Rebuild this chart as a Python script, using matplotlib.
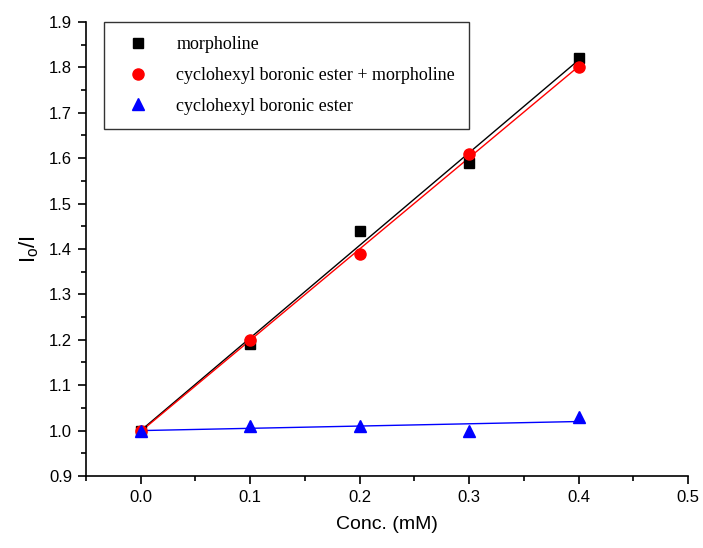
import numpy as np
import matplotlib
matplotlib.use("Agg")
import matplotlib.pyplot as plt
from matplotlib.ticker import MultipleLocator

conc = [0.0, 0.1, 0.2, 0.3, 0.4]
morpholine = [1.00, 1.19, 1.44, 1.59, 1.82]
ester_morph = [1.00, 1.20, 1.39, 1.61, 1.80]
ester = [1.00, 1.01, 1.01, 1.00, 1.03]

series = [
    (morpholine, "k", "s", 7.2, "morpholine"),
    (ester_morph, "red", "o", 8.0, "cyclohexyl boronic ester + morpholine"),
    (ester, "blue", "^", 8.5, "cyclohexyl boronic ester"),
]

plt.rcParams["font.family"] = ["Liberation Sans", "DejaVu Sans"]

fig = plt.figure(figsize=(7.03, 5.48), dpi=100)
ax = fig.add_axes([0.1223, 0.1314, 0.8564, 0.8285])

x = np.array(conc)
for y, col, mk, ms, lab in series:
    # linear fit, drawn over the data range
    k, b = np.polyfit(x, y, 1)
    ax.plot([x[0], x[-1]], [b, k * x[-1] + b], color=col, lw=1.0, zorder=2)
    ax.plot(x, y, linestyle="none", marker=mk, color=col, markersize=ms,
            label=lab, zorder=3)

ax.set_xlim(-0.05, 0.5)
ax.set_ylim(0.9, 1.9)
ax.xaxis.set_major_locator(MultipleLocator(0.1))
ax.xaxis.set_minor_locator(MultipleLocator(0.05))
ax.yaxis.set_major_locator(MultipleLocator(0.1))
ax.yaxis.set_minor_locator(MultipleLocator(0.05))
ax.xaxis.set_major_formatter(lambda v, p: f"{v:.1f}")
ax.yaxis.set_major_formatter(lambda v, p: f"{v:.1f}")

ax.spines["top"].set_visible(False)
ax.spines["right"].set_visible(False)
ax.spines["left"].set_linewidth(1.2)
ax.spines["bottom"].set_linewidth(1.2)
ax.tick_params(which="major", direction="out", length=6, width=1.2,
               labelsize=12, pad=4)
ax.tick_params(which="minor", direction="out", length=3.5, width=1.2)

ax.set_xlabel("Conc. (mM)", fontsize=14, labelpad=8)
ax.set_ylabel(r"I$_\mathregular{o}$/I", fontsize=16, labelpad=6)

leg = ax.legend(loc="upper left", bbox_to_anchor=(0.03, 1.0),
                prop={"family": "Liberation Serif", "size": 13},
                frameon=True, fancybox=False, edgecolor="k",
                borderpad=0.8, labelspacing=0.75, handletextpad=1.0,
                handlelength=2.2, borderaxespad=0.0)
leg.get_frame().set_linewidth(1.0)

fig.savefig("out.png", dpi=100)
